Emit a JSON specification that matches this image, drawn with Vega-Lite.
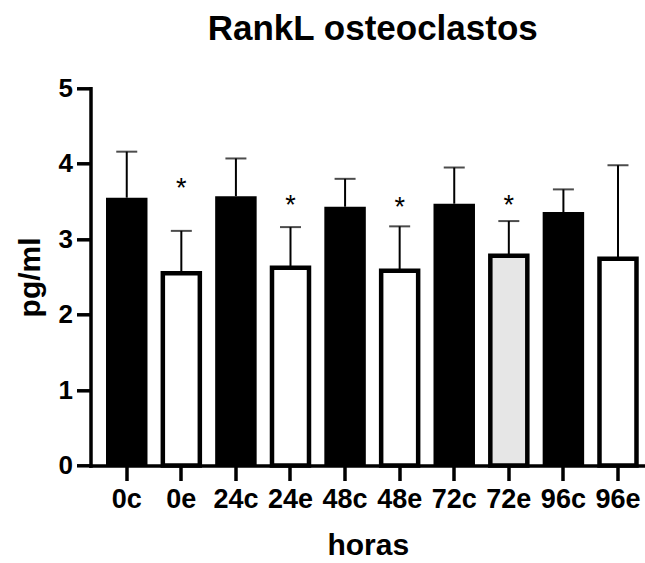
{
  "$schema": "https://vega.github.io/schema/vega-lite/v6.json",
  "autosize": {"type": "none"},
  "padding": {"left": 90.5, "top": 88.3, "right": 0, "bottom": 97.5},
  "width": 554.5,
  "height": 377.2,
  "background": "white",
  "title": {
    "text": "RankL osteoclastos",
    "font": "Liberation Sans",
    "fontSize": 35,
    "fontWeight": "bold",
    "color": "black",
    "anchor": "middle",
    "dx": 5,
    "offset": 28
  },
  "config": {
    "view": {"stroke": null},
    "axis": {
      "domainColor": "black",
      "domainWidth": 3.5,
      "domainCap": "square",
      "tickColor": "black",
      "tickWidth": 3.5,
      "labelFont": "Liberation Sans",
      "labelFontWeight": "bold",
      "labelColor": "black",
      "titleFont": "Liberation Sans",
      "titleFontWeight": "bold",
      "titleColor": "black",
      "grid": false
    },
    "axisY": {
      "labelFontSize": 26,
      "tickSize": 14,
      "labelPadding": 4,
      "titleFontSize": 30,
      "titlePadding": 13
    }
  },
  "data": {
    "values": [
      {"hora": "0c", "tipo": "control", "media": 3.55, "sup": 4.16, "estrella": null},
      {"hora": "0e", "tipo": "exp", "media": 2.55, "sup": 3.11, "estrella": 3.76},
      {"hora": "24c", "tipo": "control", "media": 3.57, "sup": 4.07, "estrella": null},
      {"hora": "24e", "tipo": "exp", "media": 2.62, "sup": 3.16, "estrella": 3.53},
      {"hora": "48c", "tipo": "control", "media": 3.43, "sup": 3.80, "estrella": null},
      {"hora": "48e", "tipo": "exp", "media": 2.58, "sup": 3.17, "estrella": 3.50},
      {"hora": "72c", "tipo": "control", "media": 3.47, "sup": 3.95, "estrella": null},
      {"hora": "72e", "tipo": "exp", "media": 2.78, "sup": 3.24, "estrella": 3.53},
      {"hora": "96c", "tipo": "control", "media": 3.36, "sup": 3.66, "estrella": null},
      {"hora": "96e", "tipo": "exp", "media": 2.74, "sup": 3.98, "estrella": null}
    ]
  },
  "encoding": {
    "x": {
      "field": "hora",
      "type": "nominal",
      "sort": null,
      "scale": {
        "domain": ["0c", "0e", "24c", "24e", "48c", "48e", "72c", "72e", "96c", "96e"],
        "paddingInner": 0.24,
        "paddingOuter": 0.1995,
        "align": 0.712
      },
      "axis": {
        "title": "horas",
        "labelAngle": 0,
        "labelFontSize": 27,
        "tickSize": 15,
        "labelPadding": 6,
        "titleFontSize": 30,
        "titlePadding": 18
      }
    }
  },
  "layer": [
    {
      "transform": [{"filter": "datum.tipo === 'control'"}],
      "mark": {"type": "bar", "color": "black", "width": {"band": 1}},
      "encoding": {
        "y": {"field": "media", "type": "quantitative", "title": "pg/ml", "scale": {"domain": [0, 5], "nice": false}, "axis": {"values": [0, 1, 2, 3, 4, 5]}}
      }
    },
    {
      "transform": [{"filter": "datum.tipo === 'exp'"}],
      "mark": {"type": "bar", "stroke": "black", "strokeWidth": 4.5, "width": {"band": 0.892}},
      "encoding": {
        "y": {"field": "media", "type": "quantitative", "title": "pg/ml", "scale": {"domain": [0, 5], "nice": false}, "axis": {"values": [0, 1, 2, 3, 4, 5]}},
        "fill": {
          "field": "hora",
          "type": "nominal",
          "scale": {"domain": ["0e", "24e", "48e", "72e", "96e"], "range": ["white", "white", "white", "#e6e6e6", "white"]},
          "legend": null
        }
      }
    },
    {
      "mark": {"type": "rule", "color": "black", "strokeWidth": 2},
      "encoding": {
        "y": {"field": "media", "type": "quantitative", "title": "pg/ml", "scale": {"domain": [0, 5], "nice": false}, "axis": {"values": [0, 1, 2, 3, 4, 5]}},
        "y2": {"field": "sup"}
      }
    },
    {
      "mark": {"type": "tick", "color": "black", "size": 21, "thickness": 2},
      "encoding": {
        "y": {"field": "sup", "type": "quantitative", "title": "pg/ml", "scale": {"domain": [0, 5], "nice": false}, "axis": {"values": [0, 1, 2, 3, 4, 5]}}
      }
    },
    {
      "transform": [{"filter": {"field": "estrella", "valid": true}}],
      "mark": {"type": "text", "text": "*", "font": "Liberation Sans", "fontSize": 27, "color": "black", "baseline": "alphabetic", "dy": 15},
      "encoding": {
        "y": {"field": "estrella", "type": "quantitative", "title": "pg/ml", "scale": {"domain": [0, 5], "nice": false}, "axis": {"values": [0, 1, 2, 3, 4, 5]}}
      }
    }
  ]
}
